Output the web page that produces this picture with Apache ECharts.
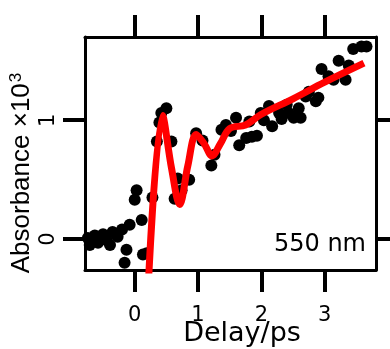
<!DOCTYPE html>
<html>
<head>
<meta charset="utf-8">
<script src="https://cdn.jsdelivr.net/npm/echarts@6/dist/echarts.min.js"></script>
<style>html,body{margin:0;padding:0;background:#fff}#c{width:390px;height:349px}</style>
</head>
<body>
<div id="c"></div>
<script>
// Measured data (delay in ps, absorbance x 10^3)
var dataX = [-0.74,-0.71,-0.63,-0.58,-0.50,-0.44,-0.39,-0.35,-0.27,-0.20,-0.13,-0.16,-0.08,0.00,0.03,0.11,0.13,0.19,0.28,0.35,0.39,0.42,0.50,0.58,0.63,0.68,0.74,0.86,0.97,1.07,1.21,1.26,1.37,1.44,1.52,1.60,1.65,1.76,1.81,1.85,1.93,1.99,2.04,2.12,2.17,2.28,2.32,2.40,2.43,2.51,2.59,2.62,2.70,2.75,2.86,2.90,2.95,3.06,3.14,3.22,3.33,3.38,3.45,3.58,3.66];
var dataY = [0.01,-0.05,0.03,-0.03,0.04,-0.01,-0.05,0.06,0.02,0.08,-0.09,-0.20,0.12,0.33,0.41,0.16,-0.13,-0.12,0.35,0.82,0.98,1.06,1.10,0.82,0.34,0.51,0.41,0.50,0.89,0.83,0.62,0.71,0.92,0.96,0.91,1.02,0.79,0.85,0.99,0.86,0.87,1.06,1.00,1.12,0.95,1.06,1.01,1.13,1.06,1.02,1.10,1.02,1.20,1.24,1.16,1.19,1.43,1.37,1.34,1.50,1.34,1.46,1.60,1.62,1.62];
// Fit curve
var fitX = [0.20,0.44,0.58,0.71,0.84,0.97,1.10,1.22,1.35,1.50,1.75,2.00,2.50,3.00,3.62];
var fitY = [-0.55,1.04,0.60,0.29,0.62,0.88,0.80,0.70,0.80,0.93,0.96,1.05,1.18,1.32,1.48];
var xTicks = [0,1,2,3];
var yTicks = [0,1];

var pts = dataX.map(function(x,i){return [x,dataY[i]];});
var fit = fitX.map(function(x,i){return [x,fitY[i]];});

var chart = echarts.init(document.getElementById('c'));
var font = 'DejaVu Sans, sans-serif';
var font2 = 'Liberation Sans, Arial, sans-serif';
var lineStyle = {color:'#000', width:3};
var tickStyle = {color:'#000', width:4};
function xAxis(pos, labels){
  return {
    type:'value', position:pos, min:-0.785, max:3.81,
    axisLine:{show:true, onZero:false, lineStyle:lineStyle},
    axisTick:{show:true, inside:false, length:22, lineStyle:tickStyle, customValues:xTicks},
    axisLabel:{show:labels, customValues:xTicks, margin:35, color:'#000', fontSize:21, fontFamily:font},
    splitLine:{show:false},
    name: labels ? 'Delay/ps' : '',
    nameLocation:'middle', nameGap:50, nameMoveOverlap:false,
    nameTextStyle:{color:'#000', fontSize:27, fontFamily:font, padding:[0,0,0,23]}
  };
}
function yAxis(pos, labels){
  return {
    type:'value', position:pos, min:-0.26, max:1.70,
    axisLine:{show:true, onZero:false, lineStyle:lineStyle},
    axisTick:{show:true, inside:false, length:22, lineStyle:tickStyle, customValues:yTicks},
    axisLabel:{show:labels, customValues:yTicks, rotate:90, margin:26, color:'#000', fontSize:21, fontFamily:font},
    splitLine:{show:false}
  };
}
chart.setOption({
  animation:false,
  backgroundColor:'#fff',
  grid:{left:85, right:14, top:37, bottom:79, outerBoundsMode:'none', containLabel:false},
  xAxis:[xAxis('bottom', true), xAxis('top', false)],
  yAxis:[yAxis('left', true), yAxis('right', false)],
  graphic:[
    {type:'text', x:22, y:173, rotation:Math.PI/2,
     style:{text:'Absorbance ×10{sup|3}', rich:{sup:{fontSize:17, verticalAlign:'top', padding:[0,0,12,1], fill:'#000', fontFamily:font2}}, fill:'#000', fontSize:26, fontFamily:font2, align:'center', verticalAlign:'middle'}},
    {type:'text', x:366, y:245,
     style:{text:'550 nm', fill:'#000', fontSize:24, fontFamily:font, align:'right', verticalAlign:'middle'}}
  ],
  series:[
    {type:'scatter', data:pts, xAxisIndex:0, yAxisIndex:0, symbolSize:12, itemStyle:{color:'#000', opacity:1}, z:2},
    {type:'line', data:fit, xAxisIndex:0, yAxisIndex:0, smooth:0.35, showSymbol:false, clip:true, lineStyle:{color:'#ff0000', width:7}, z:3}
  ]
});
</script>
</body>
</html>
